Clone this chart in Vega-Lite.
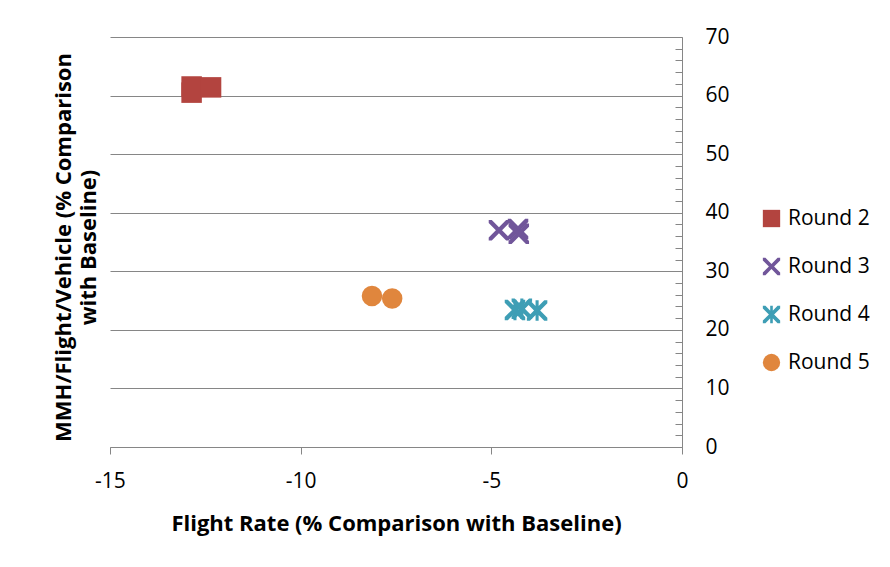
{
  "$schema": "https://vega.github.io/schema/vega-lite/v6.json",
  "width": 572,
  "height": 410,
  "autosize": {"type": "none"},
  "padding": {"left": 110, "top": 37, "right": 208, "bottom": 120},
  "background": "white",
  "config": {"view": {"stroke": null}, "font": "Open Sans"},
  "data": {
    "values": [
      {"round": "Round 2", "flight_rate": -12.86, "mmh": 61.55},
      {"round": "Round 2", "flight_rate": -12.86, "mmh": 60.5},
      {"round": "Round 2", "flight_rate": -12.35, "mmh": 61.4},
      {"round": "Round 3", "flight_rate": -4.8, "mmh": 37.0},
      {"round": "Round 3", "flight_rate": -4.3, "mmh": 37.2},
      {"round": "Round 3", "flight_rate": -4.28, "mmh": 36.4},
      {"round": "Round 4", "flight_rate": -4.38, "mmh": 23.4},
      {"round": "Round 4", "flight_rate": -4.2, "mmh": 23.6},
      {"round": "Round 4", "flight_rate": -3.8, "mmh": 23.3},
      {"round": "Round 5", "flight_rate": -8.13, "mmh": 25.8},
      {"round": "Round 5", "flight_rate": -7.6, "mmh": 25.35}
    ]
  },
  "mark": {"type": "point", "filled": true, "opacity": 1, "size": 420},
  "encoding": {
    "x": {
      "field": "flight_rate",
      "type": "quantitative",
      "scale": {"domain": [-15, 0], "nice": false, "zero": false},
      "axis": {
        "values": [-15, -10, -5, 0],
        "labelExpr": "datum.value + ''",
        "grid": false,
        "domainColor": "#868686",
        "tickColor": "#868686",
        "tickSize": 7,
        "labelFontSize": 21,
        "labelColor": "black",
        "labelPadding": 16,
        "labelFlush": false,
        "title": "Flight Rate (% Comparison with Baseline)",
        "titleFontSize": 22,
        "titleFontWeight": "bold",
        "titleColor": "black",
        "titleY": 76,
        "titleBaseline": "middle"
      }
    },
    "y": {
      "field": "mmh",
      "type": "quantitative",
      "scale": {"domain": [0, 70], "nice": false},
      "axis": {
        "orient": "right",
        "values": [0, 2, 4, 6, 8, 10, 12, 14, 16, 18, 20, 22, 24, 26, 28, 30, 32, 34, 36, 38, 40, 42, 44, 46, 48, 50, 52, 54, 56, 58, 60, 62, 64, 66, 68, 70],
        "labelExpr": "datum.value % 10 === 0 ? datum.label : ''",
        "labelOverlap": false,
        "labelFlush": false,
        "grid": true,
        "gridColor": "#868686",
        "gridOpacity": {"condition": {"test": "datum.value % 10 === 0", "value": 1}, "value": 0},
        "tickSize": -7,
        "tickColor": "#868686",
        "domainColor": "#868686",
        "labelPadding": 30,
        "labelFontSize": 21,
        "labelColor": "black",
        "labelAlign": "left",
        "title": ["MMH/Flight/Vehicle (% Comparison", "with Baseline)"],
        "titleX": -619,
        "titleY": 210,
        "titleAngle": -90,
        "titleAlign": "center",
        "titleBaseline": "middle",
        "titleFontSize": 22,
        "titleLineHeight": 25,
        "titleFontWeight": "bold",
        "titleColor": "black"
      }
    },
    "color": {
      "field": "round",
      "type": "nominal",
      "scale": {"domain": ["Round 2", "Round 3", "Round 4", "Round 5"], "range": ["#B3443F", "#71569A", "#3E9EB5", "#E0863D"]},
      "legend": {
        "orient": "none",
        "legendX": 651,
        "legendY": 171,
        "title": null,
        "labelFontSize": 21,
        "labelColor": "black",
        "symbolSize": 300,
        "rowPadding": 26,
        "labelOffset": 6
      }
    },
    "shape": {
      "field": "round",
      "type": "nominal",
      "scale": {
        "domain": ["Round 2", "Round 3", "Round 4", "Round 5"],
        "range": [
          "square",
          "M0,-0.3L0.7,-1L1,-1L1,-0.7L0.3,0L1,0.7L1,1L0.7,1L0,0.3L-0.7,1L-1,1L-1,0.7L-0.3,0L-1,-0.7L-1,-1L-0.7,-1Z",
          "M0,-0.3L0.7,-1L1,-1L1,-0.7L0.3,0L1,0.7L1,1L0.7,1L0,0.3L-0.7,1L-1,1L-1,0.7L-0.3,0L-1,-0.7L-1,-1L-0.7,-1ZM-0.15,-1L0.15,-1L0.15,1L-0.15,1Z",
          "circle"
        ]
      }
    }
  }
}
